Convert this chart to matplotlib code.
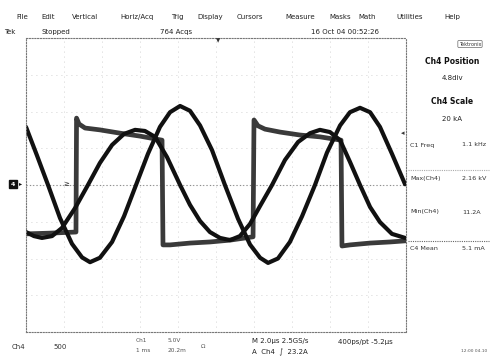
import matplotlib
matplotlib.use("Agg")
import matplotlib.pyplot as plt

# ---- data (time in µs, value in divisions) ----
t_a = [0.00, 0.58, 1.16, 1.79, 2.42, 2.95, 3.37, 3.89, 4.53, 5.16, 5.79, 6.42, 7.05, 7.58,
       8.11, 8.63, 9.16, 9.79, 10.47, 11.16, 11.79, 12.32, 12.74, 13.26, 13.89, 14.53,
       15.21, 15.84, 16.53, 17.05, 17.58, 18.11, 18.63, 19.26, 19.95]
v_a = [1.58, 0.80, 0.00, -0.90, -1.60, -1.97, -2.10, -1.98, -1.55, -0.85, 0.00, 0.85, 1.58, 1.98,
       2.15, 2.02, 1.62, 0.95, 0.00, -0.92, -1.62, -1.98, -2.12, -2.00, -1.55, -0.85,
       0.00, 0.88, 1.62, 1.98, 2.10, 1.98, 1.58, 0.85, 0.02]

t_b = [0.00, 0.42, 0.84, 1.37, 1.89, 2.58, 3.26, 3.89, 4.53, 5.16, 5.74, 6.26, 6.79, 7.42,
       8.11, 8.63, 9.16, 9.68, 10.21, 10.74, 11.26, 11.79, 12.32, 12.95, 13.63, 14.32,
       14.95, 15.47, 16.00, 16.53, 17.05, 17.58, 18.11, 18.63, 19.26, 19.95]
v_b = [-1.28, -1.39, -1.44, -1.39, -1.17, -0.63, 0.00, 0.60, 1.09, 1.39, 1.50, 1.47, 1.31, 0.76,
       0.00, -0.54, -0.98, -1.28, -1.44, -1.50, -1.39, -1.06, -0.57, 0.00, 0.68, 1.17,
       1.41, 1.50, 1.44, 1.22, 0.63, 0.00, -0.60, -1.01, -1.33, -1.44]

t_c = [0.00, 1.26, 2.63, 2.66, 2.79, 3.11, 3.89, 4.95, 6.00, 7.16, 7.21, 7.58, 8.63, 9.68,
       10.74, 11.95, 12.00, 12.21, 12.58, 13.37, 14.42, 15.47, 16.58, 16.63, 17.05, 18.11,
       19.16, 19.95]
v_c = [-1.33, -1.31, -1.28, 1.82, 1.66, 1.55, 1.50, 1.41, 1.33, 1.22, -1.63, -1.63, -1.58, -1.55,
       -1.50, -1.41, 1.77, 1.61, 1.52, 1.44, 1.36, 1.31, 1.22, -1.66, -1.63, -1.58,
       -1.55, -1.52]

menu_labels = ["File", "Edit", "Vertical", "Horiz/Acq", "Trig", "Display", "Cursors",
               "Measure", "Masks", "Math", "Utilities", "Help"]
meas_names = ["C1 Freq", "Max(Ch4)", "Min(Ch4)", "C4 Mean"]
meas_values = ["1.1 kHz", "2.16 kV", "11.2A", "5.1 mA"]

# ---- figure ----
W, H = 491, 359
fig = plt.figure(figsize=(W / 100, H / 100), dpi=100)
fig.patch.set_facecolor("white")

def P(x, y):
    return (x / W, 1 - y / H)

ax = fig.add_axes([26 / W, 1 - 332 / H, 380 / W, 294 / H])
ax.set_xlim(0, 20)
ax.set_ylim(-4, 4)
ax.set_facecolor("white")
for s in ax.spines.values():
    s.set_linestyle((0, (1, 1.5)))
    s.set_color("#777777")
    s.set_linewidth(0.8)
ax.set_xticks([])
ax.set_yticks([])

# graticule
for i in range(1, 10):
    ax.axvline(2 * i, color="#c4c4c4", lw=0.6, ls=(0, (1, 5)))
for j in range(-3, 4):
    ax.axhline(j, color="#c4c4c4", lw=0.6, ls=(0, (1, 5)))
ax.axhline(0, color="#888888", lw=0.8, ls=(0, (1, 2)))

ax.plot(t_c, v_c, color="#3a3a3a", lw=3.4, solid_joinstyle="round")
ax.plot(t_b, v_b, color="#111111", lw=3.0, solid_joinstyle="round", solid_capstyle="round")
ax.plot(t_a, v_a, color="#111111", lw=3.0, solid_joinstyle="round", solid_capstyle="round")

fs = 5.0
# menu bar
menu_x = [22, 48, 85, 137, 177, 210, 250, 300, 340, 367, 410, 452]
for x, lab in zip(menu_x, menu_labels):
    fig.text(*P(x, 17), lab, fontsize=fs, ha="center", va="center", color="#222222")

# status line
fig.text(*P(4, 32), "Tek", fontsize=fs, ha="left", va="center", color="#222222")
fig.text(*P(56, 32), "Stopped", fontsize=fs, ha="center", va="center", color="#222222")
fig.text(*P(176, 32), "764 Acqs", fontsize=fs, ha="center", va="center", color="#222222")
fig.text(*P(345, 32), "16 Oct 04 00:52:26", fontsize=fs, ha="center", va="center", color="#222222")
fig.text(*P(470, 44), "Tektronix", fontsize=3.5, ha="center", va="center", color="#333333",
         bbox=dict(boxstyle="round,pad=0.2", fc="white", ec="#666666", lw=0.5))

# right panel
fig.text(*P(452, 62), "Ch4 Position", fontsize=5.5, ha="center", va="center",
         weight="bold", color="#111111")
fig.text(*P(452, 78), "4.8div", fontsize=fs, ha="center", va="center", color="#222222")
fig.text(*P(452, 102), "Ch4 Scale", fontsize=5.5, ha="center", va="center",
         weight="bold", color="#111111")
fig.text(*P(452, 119), "20 kA", fontsize=fs, ha="center", va="center", color="#222222")
for k, (nm, val) in enumerate(zip(meas_names, meas_values)):
    y = [145, 178, 212, 248][k]
    fig.text(*P(410, y), nm, fontsize=4.6, ha="left", va="center", color="#333333")
    fig.text(*P(462, y), val, fontsize=4.6, ha="left", va="center", color="#333333")
for y, c in [(170, "#aaaaaa"), (241, "#666666")]:
    fig.add_artist(plt.Line2D([408 / W, 489 / W], [1 - y / H, 1 - y / H],
                              color=c, lw=0.8, ls=(0, (1, 1))))

# markers
fig.text(*P(13, 184), "4", fontsize=4.5, ha="center", va="center", color="white", weight="bold",
         bbox=dict(boxstyle="square,pad=0.25", fc="#111111", ec="#111111"))
fig.text(*P(21, 184), "▸", fontsize=4.5, ha="center", va="center", color="#111111")
fig.text(*P(66, 184), "≥", fontsize=5, ha="center", va="center", color="#333333")
fig.text(*P(218, 41), "▼", fontsize=4, ha="center", va="center", color="#333333")
fig.text(*P(403, 133), "◂", fontsize=5, ha="center", va="center", color="#333333")

# bottom status
fig.text(*P(12, 347), "Ch4", fontsize=fs, ha="left", va="center", color="#333333")
fig.text(*P(53, 347), "500", fontsize=fs, ha="left", va="center", color="#333333")
fig.text(*P(136, 341), "Ch1", fontsize=4.2, ha="left", va="center", color="#555555")
fig.text(*P(136, 351), "1 ms", fontsize=4.2, ha="left", va="center", color="#555555")
fig.text(*P(168, 341), "5.0V", fontsize=4.2, ha="left", va="center", color="#555555")
fig.text(*P(168, 351), "20.2m", fontsize=4.2, ha="left", va="center", color="#555555")
fig.text(*P(201, 347), "Ω", fontsize=4.2, ha="left", va="center", color="#555555")
fig.text(*P(252, 341), "M 2.0µs 2.5GS/s", fontsize=fs, ha="left", va="center", color="#222222")
fig.text(*P(252, 352), "A  Ch4  ∫  23.2A", fontsize=fs, ha="left", va="center", color="#222222")
fig.text(*P(338, 342), "400ps/pt -5.2µs", fontsize=fs, ha="left", va="center", color="#222222")
fig.text(*P(474, 351), "12:00 04.10", fontsize=3.2, ha="center", va="center", color="#555555")

fig.savefig("out.png", dpi=100, facecolor="white")
